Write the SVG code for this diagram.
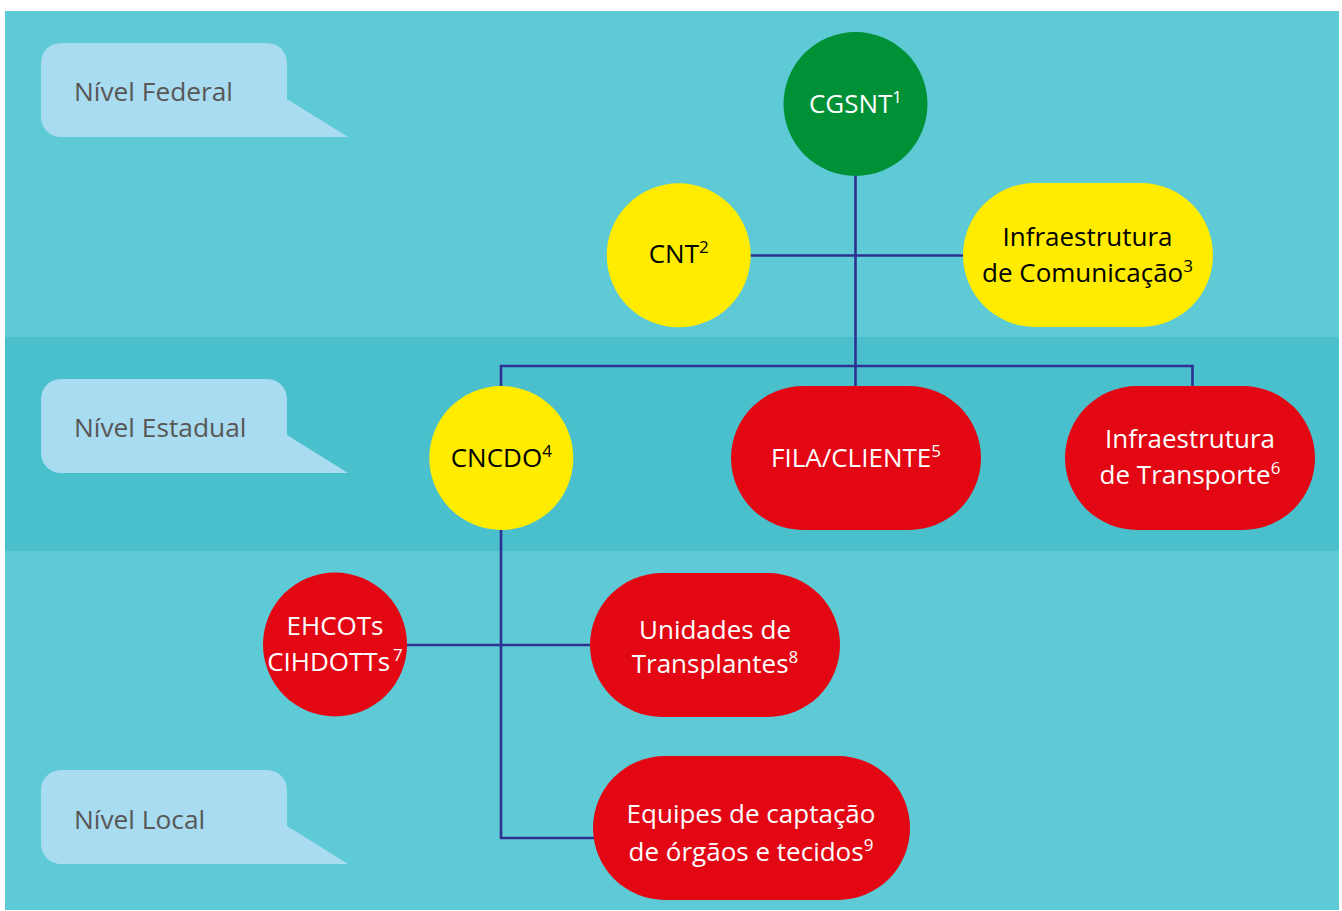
<svg xmlns="http://www.w3.org/2000/svg" width="1342" height="911" viewBox="0 0 1342 911">
<style>
.lbl{fill:#a9dcf0}
.lbltx{font-family:"Open Sans","Liberation Sans",sans-serif;font-size:26.3px;fill:#575756}
.tx{font-family:"Open Sans","Liberation Sans",sans-serif;font-size:26px;text-anchor:middle}
.w{fill:#ffffff}
.k{fill:#000000}
.sup{font-size:17px}
.green{fill:#009036}
.yel{fill:#ffec00}
.red{fill:#e30613}
.conn line,.conn polyline{stroke:#2e3192;stroke-width:2.6;fill:none}
</style>
<rect x="5" y="11" width="1334" height="899" fill="#5ecad5"/>
<rect x="5" y="337" width="1334" height="214" fill="#49c0cc"/>

<g id="label-federal">
<path class="lbl" d="M61,43 H267 A20,20 0 0 1 287,63 V99 L348,137 H61 A20,20 0 0 1 41,117 V63 A20,20 0 0 1 61,43 Z"/>
<text class="lbltx" x="74" y="101">Nível Federal</text>
</g>
<g id="label-estadual">
<path class="lbl" d="M61,379 H267 A20,20 0 0 1 287,399 V435 L348,473 H61 A20,20 0 0 1 41,453 V399 A20,20 0 0 1 61,379 Z"/>
<text class="lbltx" x="74" y="437">Nível Estadual</text>
</g>
<g id="label-local">
<path class="lbl" d="M61,770 H267 A20,20 0 0 1 287,790 V826 L348,864 H61 A20,20 0 0 1 41,844 V790 A20,20 0 0 1 61,770 Z"/>
<text class="lbltx" x="74" y="829">Nível Local</text>
</g>

<g id="connectors" class="conn">
<line x1="855.5" y1="170" x2="855.5" y2="388"/>
<line x1="745" y1="255.5" x2="968" y2="255.5"/>
<polyline points="501,390 501,366 1192.5,366 1192.5,390"/>
<polyline points="501,525 501,838 595,838"/>
<line x1="400" y1="645" x2="595" y2="645"/>
</g>

<g id="cgsnt">
<circle class="green" cx="855.5" cy="104" r="72"/>
<text class="tx w" x="855.5" y="113">CGSNT<tspan class="sup" dy="-10">1</tspan></text>
</g>
<g id="cnt">
<circle class="yel" cx="678.7" cy="255.3" r="72"/>
<text class="tx k" x="678.7" y="263.3">CNT<tspan class="sup" dy="-10">2</tspan></text>
</g>
<g id="infra-comunicacao">
<rect class="yel" x="963" y="183" width="250" height="144" rx="72"/>
<text class="tx k" x="1087.5" y="246">Infraestrutura</text>
<text class="tx k" x="1087.5" y="281.7">de Comunicação<tspan class="sup" dy="-10">3</tspan></text>
</g>
<g id="cncdo">
<circle class="yel" cx="501.3" cy="458" r="72"/>
<text class="tx k" x="501.3" y="466.7">CNCDO<tspan class="sup" dy="-10">4</tspan></text>
</g>
<g id="fila-cliente">
<rect class="red" x="731" y="386" width="250" height="144" rx="72"/>
<text class="tx w" x="856" y="466.7">FILA/CLIENTE<tspan class="sup" dy="-10">5</tspan></text>
</g>
<g id="infra-transporte">
<rect class="red" x="1065" y="386" width="250" height="144" rx="72"/>
<text class="tx w" x="1190" y="448.3">Infraestrutura</text>
<text class="tx w" x="1190" y="484">de Transporte<tspan class="sup" dy="-10">6</tspan></text>
</g>
<g id="ehcots">
<circle class="red" cx="335" cy="644.5" r="72"/>
<text class="tx w" x="335" y="635">EHCOTs</text>
<text class="tx w" x="335" y="671">CIHDOTTs<tspan class="sup" dx="3" dy="-10">7</tspan></text>
</g>
<g id="unidades">
<rect class="red" x="590" y="573" width="250" height="144" rx="72"/>
<text class="tx w" x="715" y="639">Unidades de</text>
<text class="tx w" x="715" y="673.3">Transplantes<tspan class="sup" dy="-10">8</tspan></text>
</g>
<g id="equipes">
<rect class="red" x="593" y="756" width="317" height="144" rx="72"/>
<text class="tx w" x="751" y="823.3">Equipes de captação</text>
<text class="tx w" x="751" y="860.7">de órgãos e tecidos<tspan class="sup" dy="-10">9</tspan></text>
</g>
</svg>
